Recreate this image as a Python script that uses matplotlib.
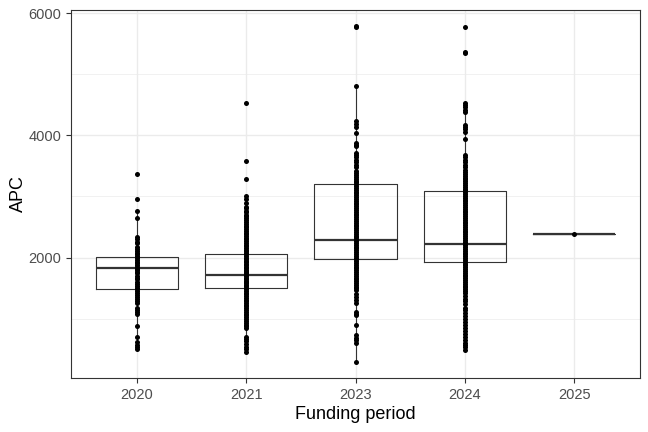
import matplotlib
matplotlib.use("Agg")
import matplotlib.pyplot as plt
from matplotlib.ticker import MultipleLocator

plt.rcParams['font.family'] = ['Liberation Sans', 'DejaVu Sans']

categories = ["2020", "2021", "2023", "2024", "2025"]

apc_2020 = [3370, 2960, 2760, 2640, 2330, 2300, 2260, 2240, 2170, 2140, 2110, 2080,
            2050, 2020, 1990, 1960, 1930, 1910, 1880, 1850, 1830, 1810, 1790, 1760,
            1740, 1700, 1670, 1640, 1600, 1570, 1530, 1500, 1480, 1450, 1420, 1390,
            1350, 1320, 1290, 1260, 1170, 1140, 1100, 1070, 880, 700, 610, 570, 540, 500]

apc_2021 = [4530, 3580, 3280, 3000, 2960, 2900, 2830, 2810, 2770, 2740, 2700, 2680,
            2650, 2610, 2580, 2550, 2520, 2500, 2470, 2440, 2400, 2380, 2350, 2320,
            2300, 2270, 2240, 2210, 2190, 2160, 2130, 2100, 2080, 2050, 2020, 2000,
            1980, 1950, 1920, 1900, 1880, 1850, 1830, 1800, 1780, 1760, 1740, 1710,
            1690, 1670, 1650, 1620, 1600, 1580, 1550, 1530, 1500, 1480, 1450, 1420,
            1400, 1370, 1340, 1310, 1280, 1250, 1220, 1200, 1170, 1140, 1110, 1080,
            1050, 1020, 990, 960, 930, 900, 870, 840, 700, 670, 630, 590, 540, 500, 456]

apc_2023 = [5800, 5780, 4810, 4230, 4180, 4140, 4040, 3880, 3850, 3820, 3710, 3680,
            3640, 3600, 3560, 3520, 3490, 3410, 3380, 3350, 3320, 3290, 3260, 3230,
            3200, 3170, 3140, 3110, 3080, 3050, 3020, 2990, 2960, 2930, 2900, 2870,
            2840, 2810, 2780, 2750, 2720, 2690, 2660, 2630, 2600, 2570, 2540, 2510,
            2480, 2450, 2420, 2390, 2360, 2330, 2300, 2270, 2240, 2210, 2180, 2150,
            2120, 2090, 2060, 2030, 2000, 1970, 1940, 1910, 1880, 1850, 1820, 1790,
            1760, 1730, 1700, 1670, 1640, 1610, 1580, 1550, 1520, 1500, 1460, 1400,
            1350, 1300, 1250, 1110, 1080, 1060, 890, 730, 680, 640, 600, 292]

apc_2024 = [5770, 5370, 5360, 4540, 4500, 4460, 4420, 4390, 4170, 4140, 4100, 4060,
            3950, 3680, 3640, 3600, 3560, 3520, 3490, 3430, 3400, 3370, 3340, 3310,
            3280, 3250, 3220, 3190, 3160, 3130, 3100, 3070, 3040, 3010, 2980, 2950,
            2920, 2890, 2860, 2830, 2800, 2770, 2740, 2710, 2680, 2650, 2620, 2590,
            2560, 2530, 2500, 2470, 2440, 2410, 2380, 2350, 2320, 2290, 2260, 2230,
            2200, 2170, 2140, 2110, 2080, 2050, 2020, 1990, 1960, 1930, 1900, 1870,
            1840, 1810, 1780, 1750, 1720, 1690, 1660, 1630, 1600, 1570, 1540, 1510,
            1480, 1450, 1420, 1370, 1320, 1280, 1230, 1180, 1140, 1090, 1040, 990,
            940, 890, 840, 790, 740, 690, 640, 600, 560, 530, 484]

apc_2025 = [2390]

series = [apc_2020, apc_2021, apc_2023, apc_2024, apc_2025]

# box statistics (q1, median, q3, whisker low, whisker high)
q1 = [1479, 1505, 1970, 1921, 2390]
med = [1823, 1708, 2290, 2216, 2390]
q3 = [2010, 2052, 3205, 3090, 2390]
whislo = [500, 700, 292, 484, 2390]
whishi = [2760, 2830, 4811, 4538, 2390]

fig = plt.figure(figsize=(6.48, 4.32), dpi=100)
ax = fig.add_axes([0.1096, 0.125, 0.9877 - 0.1096, 0.9769 - 0.125])

positions = list(range(1, len(categories) + 1))
stats = []
for i in range(len(categories)):
    stats.append(dict(q1=q1[i], med=med[i], q3=q3[i], whislo=whislo[i],
                      whishi=whishi[i], fliers=[], label=categories[i]))

line_col = "#333333"
ax.bxp(stats, positions=positions, widths=0.75, showfliers=False, showcaps=False,
       boxprops=dict(color=line_col, linewidth=0.8),
       whiskerprops=dict(color=line_col, linewidth=0.8),
       medianprops=dict(color=line_col, linewidth=1.6), zorder=3)

for pos, vals in zip(positions, series):
    ax.scatter([pos] * len(vals), vals, s=13, color="black", zorder=4, linewidths=0)

ax.set_xlim(0.4, 5.6)
ax.set_ylim(25, 6057)
ax.set_xticks(positions)
ax.set_xticklabels(categories)
ax.yaxis.set_major_locator(MultipleLocator(2000))
ax.yaxis.set_minor_locator(MultipleLocator(1000))

ax.grid(which="major", color="#EBEBEB", linewidth=1.0, zorder=0)
ax.grid(which="minor", axis="y", color="#EBEBEB", linewidth=0.5, zorder=0)
ax.set_axisbelow(True)

for sp in ax.spines.values():
    sp.set_color("#333333")
    sp.set_linewidth(0.8)

ax.tick_params(which="major", length=3.5, width=0.8, color="#333333",
               labelsize=10.5, labelcolor="#4D4D4D")
ax.tick_params(which="minor", length=0)

ax.set_xlabel("Funding period", fontsize=13, color="black", labelpad=3)
ax.set_ylabel("APC", fontsize=13, color="black", labelpad=1)

fig.savefig("out.png", dpi=100)
